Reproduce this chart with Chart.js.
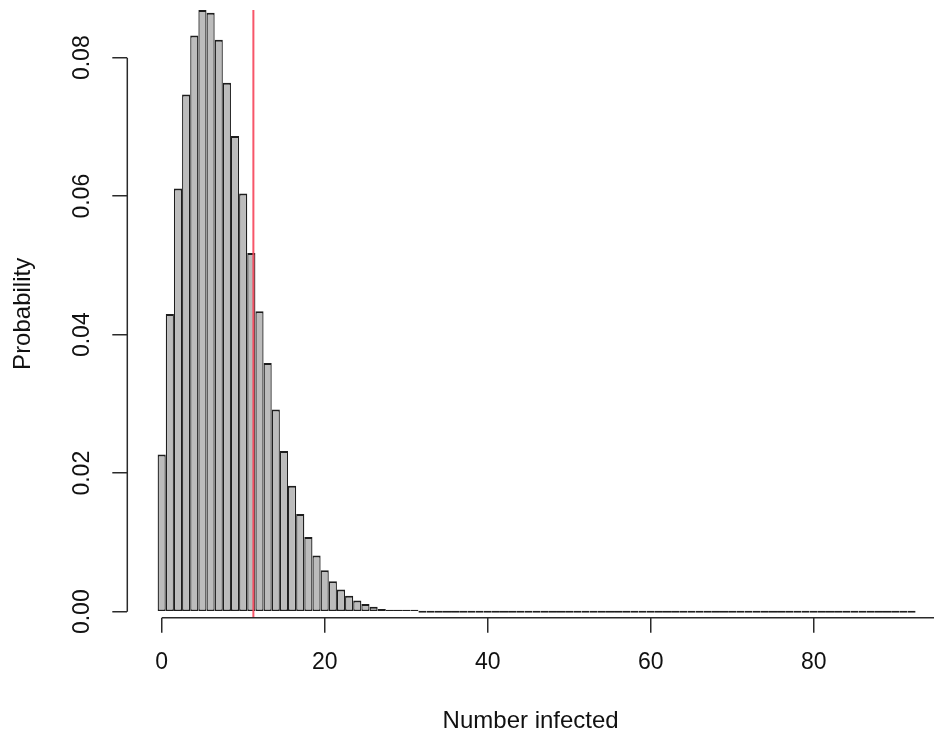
<!DOCTYPE html>
<html>
<head>
<meta charset="utf-8">
<title>Number infected</title>
<script src="https://cdn.jsdelivr.net/npm/chart.js@4.4.1/dist/chart.umd.min.js"></script>
<style>
  html, body { margin: 0; padding: 0; background: #fff; }
  #wrap { width: 934px; height: 737px; }
</style>
</head>
<body>
<div id="wrap"><canvas id="chart" width="934" height="737"></canvas></div>
<script>
/* ─── Data ─── */
const infected = [
  0, 1, 2, 3, 4, 5, 6, 7, 8, 9,
  10, 11, 12, 13, 14, 15, 16, 17, 18, 19,
  20, 21, 22, 23, 24, 25, 26, 27, 28, 29,
  30, 31, 32, 33, 34, 35, 36, 37, 38, 39,
  40, 41, 42, 43, 44, 45, 46, 47, 48, 49,
  50, 51, 52, 53, 54, 55, 56, 57, 58, 59,
  60, 61, 62, 63, 64, 65, 66, 67, 68, 69,
  70, 71, 72, 73, 74, 75, 76, 77, 78, 79,
  80, 81, 82, 83, 84, 85, 86, 87, 88, 89,
  90, 91, 92
];

const probability = [
  0.0227, 0.0430, 0.0611, 0.0747, 0.0832, 0.0869, 0.0865, 0.0826, 0.0764, 0.0687,
  0.0604, 0.0518, 0.0434, 0.0359, 0.0292, 0.0232, 0.0182, 0.0141, 0.0108, 0.0081,
  0.0060, 0.0044, 0.0032, 0.0023, 0.0016, 0.0011, 0.0007, 0.0004, 0.0003, 0.0002,
  0.0001, 0.0001, 0, 0, 0, 0, 0, 0, 0, 0,
  0, 0, 0, 0, 0, 0, 0, 0, 0, 0,
  0, 0, 0, 0, 0, 0, 0, 0, 0, 0,
  0, 0, 0, 0, 0, 0, 0, 0, 0, 0,
  0, 0, 0, 0, 0, 0, 0, 0, 0, 0,
  0, 0, 0, 0, 0, 0, 0, 0, 0, 0,
  0, 0, 0
];

// threshold marked in red
const cutoff = 11.25;

const xTicks = [0, 20, 40, 60, 80];
const yTicks = [0, 0.02, 0.04, 0.06, 0.08];

/* ─── Look ─── */
const FONT = "'Liberation Sans', Arial, Helvetica, sans-serif";
const INK = "#111";
const AXIS = "#2a2a2a";

// R-like axes: line only between first and last tick, plus the red cutoff line
const rAxes = {
  id: "rAxes",
  afterDatasetsDraw(chart) {
    const { ctx, chartArea, scales: { x } } = chart;
    const px = x.getPixelForValue(cutoff);
    ctx.save();
    ctx.strokeStyle = "rgba(246, 72, 92, 0.92)";
    ctx.lineWidth = 2;
    ctx.beginPath();
    ctx.moveTo(px, chartArea.top);
    ctx.lineTo(px, chartArea.bottom);
    ctx.stroke();
    ctx.restore();
  },
  afterDraw(chart) {
    const { ctx, chartArea, scales: { x, y } } = chart;
    ctx.save();
    ctx.strokeStyle = AXIS;
    ctx.lineWidth = 1.5;
    ctx.beginPath();
    ctx.moveTo(chartArea.left, y.getPixelForValue(yTicks[0]));
    ctx.lineTo(chartArea.left, y.getPixelForValue(yTicks[yTicks.length - 1]));
    ctx.moveTo(x.getPixelForValue(xTicks[0]), chartArea.bottom);
    ctx.lineTo(chartArea.right, chartArea.bottom);
    ctx.stroke();
    ctx.restore();
  },
};

const ctx = document.getElementById("chart").getContext("2d");

new Chart(ctx, {
  type: "bar",
  data: {
    datasets: [{
      data: infected.map((k, i) => ({ x: k, y: probability[i] })),
      backgroundColor: "#bcbcbc",
      borderColor: "#1e1e1e",
      borderWidth: { top: 2, right: 1.3, bottom: 1.5, left: 1.3 },
      borderSkipped: false,
      barPercentage: 1,
      categoryPercentage: 1,
      minBarLength: 2,
      inflateAmount: 0,
    }],
  },
  options: {
    responsive: false,
    animation: false,
    devicePixelRatio: 1,
    layout: { padding: { top: 10, right: 0, bottom: 0, left: 0 } },
    plugins: {
      legend: { display: false },
      tooltip: { enabled: false },
    },
    scales: {
      x: {
        type: "linear",
        offset: false,
        min: -4.22,
        max: 94.76,
        afterFit: (s) => { s.height = 119.3; s.paddingLeft = 0; s.paddingRight = 0; },
        afterBuildTicks: (s) => { s.ticks = xTicks.map((v) => ({ value: v })); },
        border: { display: false },
        grid: { offset: false, drawOnChartArea: false, drawTicks: true, tickLength: 15, color: AXIS, lineWidth: 1.5 },
        ticks: {
          color: INK,
          font: { family: FONT, size: 23 },
          padding: 16,
          maxRotation: 0,
          autoSkip: false,
        },
        title: {
          display: true,
          text: "Number infected",
          color: INK,
          font: { family: FONT, size: 24 },
          padding: { top: 0, bottom: 1 },
        },
      },
      y: {
        min: -0.000866,
        max: 0.08689,
        afterFit: (s) => { s.width = 127.3; s.paddingTop = 0; s.paddingBottom = 0; },
        afterBuildTicks: (s) => { s.ticks = yTicks.map((v) => ({ value: v })); },
        border: { display: false },
        grid: { drawOnChartArea: false, drawTicks: true, tickLength: 15, color: AXIS, lineWidth: 1.5 },
        ticks: {
          color: INK,
          font: { family: FONT, size: 23 },
          padding: 7,
          minRotation: 90,
          maxRotation: 90,
          crossAlign: "center",
          autoSkip: false,
          callback: (v) => v.toFixed(2),
        },
        title: {
          display: true,
          text: "Probability",
          color: INK,
          font: { family: FONT, size: 24 },
          padding: { top: 9, bottom: 0 },
        },
      },
    },
  },
  plugins: [rAxes],
});
</script>
</body>
</html>
